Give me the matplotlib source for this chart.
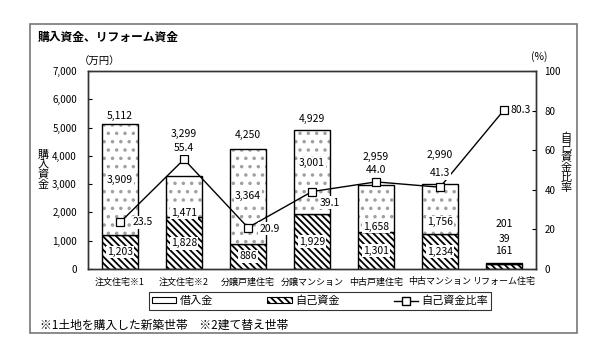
import numpy as np
import matplotlib
matplotlib.use('Agg')
from matplotlib import pyplot as plt
from matplotlib.patches import Patch, Rectangle
from matplotlib.lines import Line2D

plt.rcParams['font.family'] = ['Noto Sans CJK JP', 'DejaVu Sans']
plt.rcParams['hatch.linewidth'] = 1.3

# data
categories = ['注文住宅※1', '注文住宅※2', '分譲戸建住宅', '分譲マンション',
              '中古戸建住宅', '中古マンション', 'リフォーム住宅']
ownFunds = [1203, 1828, 886, 1929, 1301, 1234, 161]      # 自己資金
loans = [3909, 1471, 3364, 3001, 1658, 1756, 39]         # 借入金
totals = [5112, 3299, 4250, 4929, 2959, 2990, 201]       # 合計
ownRatio = [23.5, 55.4, 20.9, 39.1, 44.0, 41.3, 80.3]    # 自己資金比率(%)

# label offsets in pixels (layout only)
totalOff = [(0, 8), (0, 42), (0, 14), (0, 11), (0, 28), (0, 29), (0, 39)]
loanOff = [(0, 0), (0, -16), (0, 0), (0, 9), (0, -18), (0, -13), (0, 25)]
ownOff = [(0, 0), (0, 0), (0, 0), (0, 0), (0, 0), (0, 0), (0, 16)]
ratioOff = [(23, 0), (0, 11), (22, -1), (18, -11), (0, 12), (0, 14), (17, 0)]

W, H = 602, 352
fig = plt.figure(figsize=(W / 100, H / 100), dpi=100)

def fx(px): return px / W
def fy(py): return 1 - py / H

ax = fig.add_axes([fx(88), fy(269), fx(536) - fx(88), fy(71) - fy(269)])
ax2 = ax.twinx()

x = np.arange(len(categories))
bw = 0.55
ownHatch = '\\\\\\\\\\'
ax.bar(x, ownFunds, bw, color='white', edgecolor='black', hatch=ownHatch, linewidth=1.0, zorder=2)
# dotted loan segment: grey dots, then black outline
ax.bar(x, loans, bw, bottom=ownFunds, color='white', edgecolor='#a0a0a0', hatch='..', linewidth=0, zorder=2)
ax.bar(x, loans, bw, bottom=ownFunds, fill=False, edgecolor='black', linewidth=1.0, zorder=2)
ax2.plot(x, ownRatio, '-s', color='black', lw=1.0, ms=6, mfc='white', mec='black', mew=0.9, zorder=3)

ax.set_xlim(-0.5, len(categories) - 0.5)
ax.set_ylim(0, 7000)
ax.set_yticks(np.arange(0, 7001, 1000))
ax.set_yticklabels(['{:,}'.format(v) for v in range(0, 7001, 1000)])
ax2.set_ylim(0, 100)
ax2.set_yticks(np.arange(0, 101, 20))
ax.set_xticks(x)
ax.set_xticklabels(categories)
ax.tick_params(axis='x', length=0, labelsize=6.5, pad=6)
ax.tick_params(axis='y', direction='in', length=3, labelsize=7, pad=8)
ax2.tick_params(axis='y', direction='in', length=3, labelsize=7, pad=6)
for a in (ax, ax2):
    for s in a.spines.values():
        s.set_linewidth(1.0)
        s.set_color('#333333')

txtkw = dict(textcoords='offset pixels', ha='center', va='center', fontsize=7.5)
wbox = dict(facecolor='white', edgecolor='none', pad=1)
for i in range(len(categories)):
    ax.annotate('{:,}'.format(totals[i]), (x[i], totals[i]), xytext=totalOff[i], **txtkw)
    ax.annotate('{:,}'.format(loans[i]), (x[i], ownFunds[i] + loans[i] / 2), xytext=loanOff[i],
                bbox=wbox if i < 6 else None, zorder=4, **txtkw)
    ax.annotate('{:,}'.format(ownFunds[i]), (x[i], ownFunds[i] / 2), xytext=ownOff[i],
                bbox=wbox if i < 6 else None, zorder=4, **txtkw)
    ax2.annotate('{:.1f}'.format(ownRatio[i]), (x[i], ownRatio[i]), xytext=ratioOff[i],
                 bbox=wbox, zorder=4, **txtkw)

# axis captions
fig.text(fx(100), fy(62), '（万円）', ha='center', va='center', fontsize=7.5)
fig.text(fx(539), fy(57), '(%)', ha='center', va='center', fontsize=7.5)
fig.text(fx(43), fy(170), '購\n入\n資\n金', ha='center', va='center', fontsize=8, linespacing=1.0)
fig.text(fx(566), fy(163), '自\n己\n資\n金\n比\n率', ha='center', va='center', fontsize=8, linespacing=1.0)

# title and footnote
fig.text(fx(38), fy(37), '購入資金、リフォーム資金', ha='left', va='center', fontsize=8.5, fontweight='bold')
fig.text(fx(40), fy(325), '※1土地を購入した新築世帯　※2建て替え世帯', ha='left', va='center', fontsize=8.5)

# outer frame
fig.patches.append(Rectangle((fx(30), fy(333)), fx(577) - fx(30), fy(24) - fy(333),
                             transform=fig.transFigure, fill=False, edgecolor='#777777', lw=1.2))

handles = [Patch(facecolor='white', edgecolor='black', linewidth=0.8),
           Patch(facecolor='white', edgecolor='black', hatch=ownHatch, linewidth=0.8),
           Line2D([], [], color='black', lw=1.0, marker='s', ms=6, mfc='white', mec='black')]
leg = fig.legend(handles, ['借入金', '自己資金', '自己資金比率'], ncol=3, loc='center',
                 bbox_to_anchor=(fx(143), fy(309), fx(497) - fx(143), fy(293) - fy(309)),
                 mode='expand', fontsize=8, frameon=True, fancybox=False, borderpad=0.3,
                 handlelength=2.2, handleheight=0.5, handletextpad=0.3)
leg.get_frame().set_edgecolor('black')
leg.get_frame().set_linewidth(0.8)

fig.savefig('out.png', dpi=100)
